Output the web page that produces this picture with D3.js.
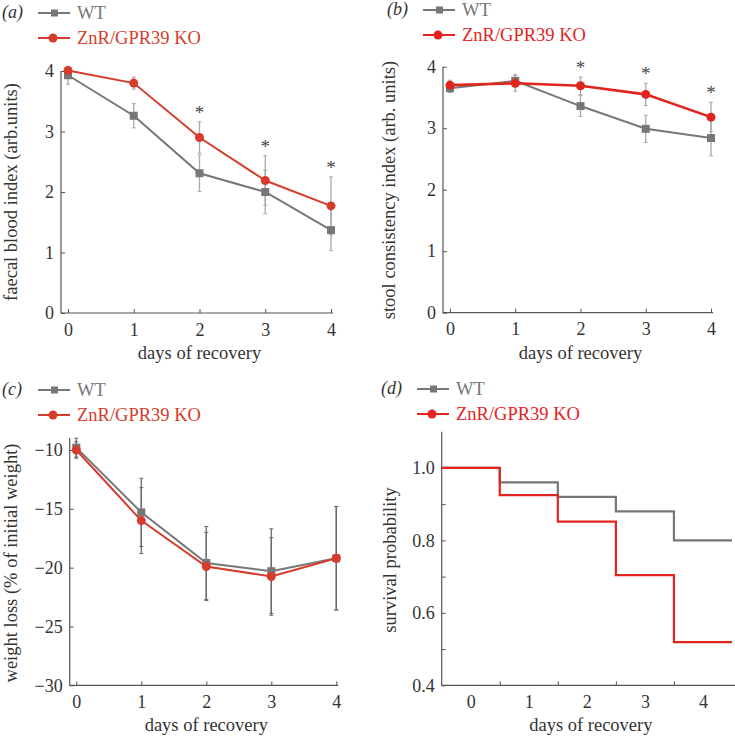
<!DOCTYPE html>
<html>
<head>
<meta charset="utf-8">
<script src="https://cdn.jsdelivr.net/npm/d3@7"></script>
<style>
  body { margin: 0; background: #fff; }
  svg { display: block; font-family: "Liberation Serif", "DejaVu Serif", serif; }
  .tick text { font-family: "Liberation Serif", "DejaVu Serif", serif; font-size: 18px; fill: #333; }
</style>
</head>
<body>
<div id="chart"></div>
<script>
// values
const days = [0, 1, 2, 3, 4];
const seriesNames = ["WT", "ZnR/GPR39 KO"];

const faecalWT = [3.93, 3.26, 2.31, 2.0, 1.37];
const faecalWTErr = [0.15, 0.2, 0.3, 0.36, 0.34];
const faecalKO = [4.01, 3.8, 2.9, 2.19, 1.77];
const faecalKOErr = [0.05, 0.1, 0.26, 0.41, 0.48];
const faecalSig = [2, 3, 4];

const stoolWT = [3.65, 3.77, 3.36, 2.99, 2.84];
const stoolWTErr = [0.07, 0.1, 0.17, 0.22, 0.29];
const stoolKO = [3.70, 3.73, 3.69, 3.55, 3.18];
const stoolKOErr = [0.08, 0.13, 0.14, 0.18, 0.24];
const stoolSig = [2, 3, 4];

const weightWT = [-9.8, -15.3, -19.6, -20.3, -19.2];
const weightWTErr = [0.8, 2.9, 3.1, 3.6, 4.4];
const weightKO = [-10.0, -16.0, -19.9, -20.75, -19.2];
const weightKOErr = [0.7, 2.8, 2.9, 3.3, 4.4];

const survivalWT = [1.0, 0.96, 0.92, 0.88, 0.80];
const survivalKO = [1.0, 0.925, 0.852, 0.704, 0.519];

const grey = "#777777", axisCol = "#555";
const titleSize = "18.5px";

const svg = d3.select("#chart").append("svg")
  .attr("width", 735).attr("height", 737);

// legend + panel letter
function legend(g, letter, lx, ly, red) {
  g.append("text").attr("x", lx - 36).attr("y", ly + 5)
    .style("font-size", "18px").style("font-style", "italic").attr("fill", "#333")
    .text("(" + letter + ")");
  const rows = [{c: grey, m: "sq"}, {c: red, m: "ci"}];
  rows.forEach((r, i) => {
    const y = ly + i * 25;
    g.append("line").attr("x1", lx).attr("x2", lx + 32).attr("y1", y).attr("y2", y)
      .attr("stroke", r.c).attr("stroke-width", 2);
    if (r.m === "sq") g.append("rect").attr("x", lx + 13).attr("y", y - 3.5).attr("width", 7).attr("height", 7).attr("fill", r.c);
    else g.append("circle").attr("cx", lx + 15).attr("cy", y).attr("r", 4.5).attr("fill", r.c);
    g.append("text").attr("x", lx + 39).attr("y", y + 6)
      .style("font-size", "18.5px").attr("fill", r.c).text(seriesNames[i]);
  });
}

function frame(g, x0, yTop, yBot, xRight) {
  g.append("path").attr("d", `M${x0},${yTop}V${yBot}H${xRight}`)
    .attr("fill", "none").attr("stroke", axisCol).attr("stroke-width", 1.2);
}

function styleAxis(a) {
  a.select(".domain").remove();
  a.selectAll(".tick line").attr("stroke", axisCol);
}

function linePanel(o) {
  const g = svg.append("g");
  const x = d3.scaleLinear().domain([0, 4]).range(o.xr);
  const y = d3.scaleLinear().domain(o.yd).range(o.yr);

  frame(g, o.x0, o.yTop, o.yr[0], o.xr[1] + 2);

  const ya = g.append("g").attr("transform", `translate(${o.x0},0)`)
    .call(d3.axisLeft(y).tickValues(o.yticks).tickSize(-4).tickPadding(7)
      .tickFormat(d => d3.format("d")(d).replace("-", "\u2212")));
  styleAxis(ya);

  const xa = g.append("g").attr("transform", `translate(0,${o.yr[0]})`)
    .call(d3.axisBottom(x).tickValues(days).tickSize(-4).tickPadding(10).tickFormat(d3.format("d")));
  styleAxis(xa);

  // error bars
  const series = [
    {v: o.wt, e: o.wtErr, c: grey, m: "sq", w: 2},
    {v: o.ko, e: o.koErr, c: o.red, m: "ci", w: o.redW || 2}
  ];
  series.forEach(s => {
    days.forEach((d, i) => {
      const x1 = x(d), t = y(s.v[i] + s.e[i]), b = y(s.v[i] - s.e[i]);
      g.append("line").attr("x1", x1).attr("x2", x1).attr("y1", t).attr("y2", b)
        .attr("stroke", o.errCol).attr("stroke-width", 1.3);
      [t, b].forEach(yy => g.append("line").attr("x1", x1 - 2).attr("x2", x1 + 2)
        .attr("y1", yy).attr("y2", yy).attr("stroke", o.errCol).attr("stroke-width", 1));
    });
  });
  series.forEach(s => {
    g.append("path").datum(s.v)
      .attr("d", d3.line().x((d, i) => x(days[i])).y(d => y(d)))
      .attr("fill", "none").attr("stroke", s.c).attr("stroke-width", s.w);
    s.v.forEach((v, i) => {
      if (s.m === "sq") g.append("rect").attr("x", x(days[i]) - 4).attr("y", y(v) - 4)
        .attr("width", 8).attr("height", 8).attr("fill", s.c);
      else g.append("circle").attr("cx", x(days[i])).attr("cy", y(v)).attr("r", 4.5).attr("fill", s.c);
    });
  });

  // significance stars
  (o.sig || []).forEach(d => {
    const top = Math.max(o.wt[d] + o.wtErr[d], o.ko[d] + o.koErr[d]);
    g.append("text").attr("x", x(d)).attr("y", y(top) - 3).attr("text-anchor", "middle")
      .style("font-size", "19px").attr("fill", "#444").text("*");
  });

  g.append("text").attr("x", (o.xr[0] + o.xr[1]) / 2).attr("y", o.yr[0] + 46)
    .attr("text-anchor", "middle").style("font-size", titleSize).attr("fill", "#333").text("days of recovery");
  g.append("text").attr("transform", `translate(${o.tx},${o.ty}) rotate(-90)`)
    .attr("text-anchor", "middle").style("font-size", titleSize).attr("fill", "#333").text(o.title);

  legend(g, o.letter, o.lx, o.ly, o.red);
}

linePanel({
  letter: "a", lx: 38, ly: 13, red: "#d63c2b",
  x0: 61, yTop: 71, xr: [68, 331], yd: [0, 4], yr: [313, 71], yticks: [0, 1, 2, 3, 4],
  wt: faecalWT, wtErr: faecalWTErr, ko: faecalKO, koErr: faecalKOErr, sig: faecalSig,
  errCol: "#aaaaaa", tx: 17, ty: 192, title: "faecal blood index (arb.units)"
});

linePanel({
  letter: "b", lx: 423, ly: 10, red: "#e2241f", redW: 2.6,
  x0: 443, yTop: 66.7, xr: [450, 711], yd: [0, 4], yr: [312.7, 66.7], yticks: [0, 1, 2, 3, 4],
  wt: stoolWT, wtErr: stoolWTErr, ko: stoolKO, koErr: stoolKOErr, sig: stoolSig,
  errCol: "#aaaaaa", tx: 395, ty: 190, title: "stool consistency index (arb. units)"
});

linePanel({
  letter: "c", lx: 38, ly: 390, red: "#d63c2b",
  x0: 69.7, yTop: 438, xr: [76.3, 336.3], yd: [-30, -10], yr: [685.3, 450], yticks: [-30, -25, -20, -15, -10],
  wt: weightWT, wtErr: weightWTErr, ko: weightKO, koErr: weightKOErr,
  errCol: "#6a6a6a", tx: 17, ty: 563, title: "weight loss (% of initial weight)"
});

// survival panel (d)
(function () {
  const g = svg.append("g");
  const red = "#e2241f";
  const x = d3.scaleLinear().domain([-0.5, 4.5]).range([441.7, 732]);
  const y = d3.scaleLinear().domain([0.4, 1.1]).range([685.3, 431.7]);

  frame(g, x(-0.5), y(1.1), y(0.4), 735);

  const ya = g.append("g").attr("transform", `translate(${x(-0.5)},0)`)
    .call(d3.axisLeft(y).tickValues([0.4, 0.5, 0.6, 0.7, 0.8, 0.9, 1.0]).tickSize(-4).tickPadding(7)
      .tickFormat(d => Math.round(d * 10) % 2 === 0 ? d3.format(".1f")(d) : ""));
  styleAxis(ya);

  const xa = g.append("g").attr("transform", `translate(0,${y(0.4)})`)
    .call(d3.axisBottom(x).tickValues([0.5, 1.5, 2.5, 3.5]).tickSize(-4).tickFormat(""));
  styleAxis(xa);
  g.append("g").attr("transform", `translate(0,${y(0.4)})`)
    .call(d3.axisBottom(x).tickValues(days).tickSize(0).tickPadding(10).tickFormat(d3.format("d")))
    .call(a => a.select(".domain").remove());

  // each day's value holds from day-0.5 to day+0.5
  const step = d3.line().curve(d3.curveStepAfter).x(d => x(d[0])).y(d => y(d[1]));
  [[survivalWT, grey], [survivalKO, red]].forEach(([s, c]) => {
    const pts = s.map((v, i) => [days[i] - 0.5, v]).concat([[4.5, s[s.length - 1]]]);
    g.append("path").datum(pts).attr("d", step)
      .attr("fill", "none").attr("stroke", c).attr("stroke-width", 2.2);
  });

  g.append("text").attr("x", (x(-0.5) + x(4.5)) / 2 + 4).attr("y", y(0.4) + 46)
    .attr("text-anchor", "middle").style("font-size", titleSize).attr("fill", "#333").text("days of recovery");
  g.append("text").attr("transform", `translate(396,560) rotate(-90)`)
    .attr("text-anchor", "middle").style("font-size", titleSize).attr("fill", "#333").text("survival probability");

  legend(g, "d", 417, 389, red);
})();
</script>
</body>
</html>
